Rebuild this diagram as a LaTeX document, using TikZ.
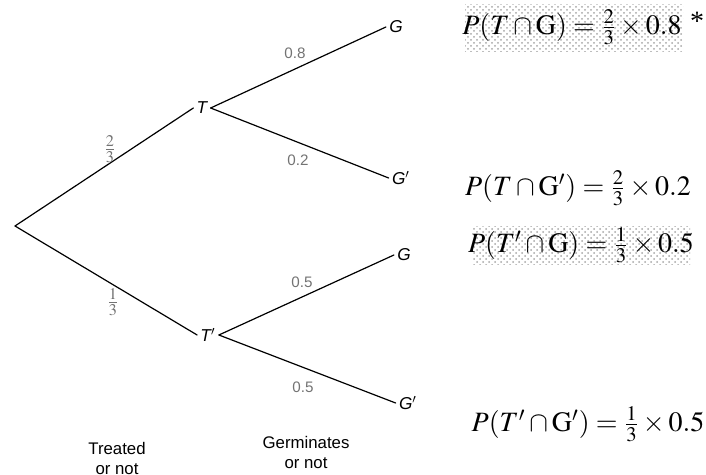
\documentclass[tikz,border=0pt]{standalone}
\usepackage{mathptmx}
\usepackage{fontspec}
\setmainfont{Liberation Serif}
\setsansfont{Liberation Sans}
\usepackage{amsmath}
\usepackage{tikz}
\usetikzlibrary{patterns}
\tikzset{
  every picture/.style={line join=round, line cap=round},
  branch/.style={line width=0.6pt},
  event/.style={font=\sffamily\itshape\fontsize{8.6}{10}\selectfont, inner sep=1.5pt},
  prob/.style={font=\sffamily\fontsize{7.6}{9}\selectfont, text=black!55, inner sep=0pt},
  frac/.style={font=\fontsize{11}{13}\selectfont, text=black!55, inner sep=0pt},
  caption/.style={font=\sffamily\fontsize{8.4}{10}\selectfont, align=center, inner sep=0pt},
  result/.style={font=\fontsize{14}{17}\selectfont, inner sep=0pt},
  shade/.style={pattern=crosshatch dots, pattern color=black!35},
}
\begin{document}
\begin{tikzpicture}[x=0.5pt,y=-0.5pt]
\useasboundingbox (0,0) rectangle (706,475);
% highlighted results
\fill[shade](465,5) rectangle (683,52);
\fill[shade](473,227) rectangle (690,265);
% tree
\coordinate (o) at (15,226);
\node[event] (t) at (202,108) {T};
\node[event] (tn) at (208,335) {T$'$};
\node[event] (g1) at (396,27) {G};
\node[event] (g1n) at (401,178) {G$'$};
\node[event] (g2) at (404,255) {G};
\node[event] (g2n) at (408,403) {G$'$};
\draw[branch](o)--(t.west);
\draw[branch](o)--(tn.west);
\draw[branch](t.east)--(g1.west);
\draw[branch](t.east)--(g1n.west);
\draw[branch](tn.east)--(g2.west);
\draw[branch](tn.east)--(g2n.west);
% probabilities on the branches
\node[frac] (p1) at (110,149) {$\frac{2}{3}$};
\node[frac] (p2) at (113,302) {$\frac{1}{3}$};
\node[prob] (p11) at (295,53) {0.8};
\node[prob] (p12) at (298,160) {0.2};
\node[prob] (p21) at (302,282) {0.5};
\node[prob] (p22) at (303,387) {0.5};
% results
\node[result] (r1) at (572,27) {$P(T\cap \mathrm{G})=\frac{2}{3}\times0.8$};
\node[result] (star) at (697,21) {*};
\node[result] (r2) at (578,188) {$P(T\cap \mathrm{G}')=\frac{2}{3}\times0.2$};
\node[result] (r3) at (581,245) {$P(T'\cap \mathrm{G})=\frac{1}{3}\times0.5$};
\node[result] (r4) at (588,424) {$P(T'\cap \mathrm{G}')=\frac{1}{3}\times0.5$};
% stage captions
\node[caption] (c1) at (117,458) {Treated\\or not};
\node[caption] (c2) at (306,452) {Germinates\\or not};
\end{tikzpicture}
\end{document}
